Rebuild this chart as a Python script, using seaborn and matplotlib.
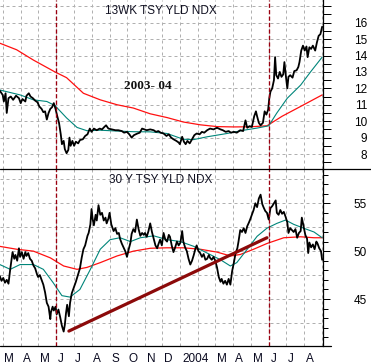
import pandas as pd
import matplotlib
matplotlib.use('Agg')
import matplotlib.pyplot as plt
from matplotlib.lines import Line2D
from matplotlib.ticker import MultipleLocator, FixedLocator, FuncFormatter
import seaborn as sns

start = pd.Timestamp('2003-03-01')

# 13 week t-bill yield index, x = days after 1 Mar 2003
bill_days = [-5, 0, 2, 5, 7, 10, 14, 18, 23, 28, 31, 34, 39, 41, 45, 48, 52, 56, 60, 63,
             67, 70, 73, 76, 79, 82, 85, 88, 91, 94, 97, 100, 102, 105, 107, 110, 113, 115, 117, 120,
             123, 126, 130, 133, 138, 142, 146, 150, 153, 157, 162, 167, 171, 175, 178, 182, 188, 194, 199, 205,
             209, 214, 218, 222, 226, 232, 236, 240, 244, 248, 254, 260, 264, 268, 272, 277, 282, 286, 290, 294,
             299, 303, 305, 309, 312, 315, 318, 322, 326, 330, 334, 339, 343, 347, 352, 357, 363, 369, 375, 379,
             384, 389, 393, 398, 403, 409, 414, 418, 421, 425, 429, 433, 436, 438, 441, 444, 448, 451, 454, 457,
             459, 461, 464, 467, 469, 471, 474, 477, 480, 483, 485, 488, 490, 492, 495, 499, 502, 506, 509, 511,
             514, 517, 520, 523, 525, 528, 531, 534, 538, 541, 544, 547, 550]
bill_yield = [11.86, 11.6, 11.2, 11.7, 10.5, 11.4, 11.5, 11.3, 11.55, 11.4, 11.1, 11.35, 11.2, 11.55, 11.7, 11.5, 11.4, 11.25, 11.15, 10.9,
              10.75, 10.55, 10.6, 10.1, 10.5, 10.75, 10.85, 11.1, 10.75, 10.3, 9.9, 9.2, 8.6, 8.8, 8.3, 8.05, 8.25, 9.0, 8.5, 8.8,
              8.5, 8.75, 8.65, 8.85, 8.9, 9.1, 9.2, 9.55, 9.35, 9.55, 9.45, 9.55, 9.5, 9.65, 9.75, 9.55, 9.5, 9.45, 9.45, 9.4,
              9.3, 9.35, 9.2, 9.0, 9.15, 9.25, 9.3, 9.55, 9.5, 9.45, 9.5, 9.45, 9.35, 9.4, 9.3, 9.25, 9.1, 9.2, 9.0, 8.9,
              8.8, 8.7, 8.6, 9.05, 8.75, 8.6, 8.8, 8.65, 8.9, 9.15, 9.25, 9.2, 9.35, 9.3, 9.45, 9.55, 9.5, 9.6, 9.5, 9.45,
              9.35, 9.4, 9.3, 9.35, 9.3, 9.45, 9.4, 10.05, 9.6, 9.7, 9.65, 10.3, 10.6, 10.3, 9.9, 9.75, 9.9, 10.6, 10.4, 10.7,
              11.4, 11.8, 12.0, 12.5, 13.9, 12.8, 12.6, 13.0, 12.7, 12.85, 13.6, 12.6, 12.0, 12.7, 12.8, 12.65, 13.05, 13.1, 13.3, 13.6,
              14.3, 14.6, 14.3, 14.55, 13.9, 14.5, 14.4, 14.6, 14.3, 14.8, 15.2, 15.3, 15.75]
bill_ma50_days = [-5, 30, 53, 76, 90, 110, 128, 145, 168, 197, 225, 254, 283, 311, 329, 352, 386, 415, 438, 458, 472, 490, 513, 530, 550]
bill_ma50 = [11.9, 11.6, 11.3, 11.2, 10.95, 10.2, 9.62, 9.42, 9.45, 9.4, 9.36, 9.35, 9.25, 8.9, 8.88, 9.05, 9.25, 9.45, 9.58, 9.72, 10.5, 11.4, 12.2, 13.0, 13.9]
bill_ma200_days = [-5, 24, 53, 90, 110, 139, 168, 197, 225, 254, 283, 311, 340, 369, 398, 427, 455, 481, 513, 550]
bill_ma200 = [14.75, 14.35, 13.72, 13.0, 12.65, 11.7, 11.3, 11.0, 10.8, 10.45, 10.22, 9.95, 9.78, 9.67, 9.65, 9.66, 9.72, 10.3, 10.9, 11.6]

# 30 year treasury yield index
bond_days = [-5, -2, 1, 4, 7, 10, 13, 15, 17, 20, 22, 25, 28, 30, 33, 36, 39, 41, 44, 47,
             50, 53, 56, 59, 61, 64, 67, 70, 73, 76, 79, 82, 83, 86, 88, 91, 93, 96, 99, 102,
             105, 107, 109, 111, 114, 116, 119, 123, 126, 130, 133, 136, 139, 142, 146, 148, 151, 153, 155, 157,
             160, 162, 165, 168, 171, 174, 177, 179, 182, 184, 187, 191, 194, 197, 200, 202, 205, 208, 211, 214,
             217, 220, 222, 225, 228, 231, 234, 237, 240, 243, 245, 248, 251, 254, 257, 260, 263, 266, 268, 271,
             274, 277, 280, 283, 286, 288, 291, 294, 297, 300, 303, 306, 309, 311, 314, 317, 320, 323, 326, 329,
             332, 334, 337, 340, 343, 346, 349, 352, 355, 357, 360, 363, 366, 369, 372, 375, 377, 380, 383, 386,
             389, 392, 395, 398, 401, 404, 406, 409, 412, 415, 418, 421, 424, 426, 429, 432, 435, 438, 441, 444,
             447, 449, 452, 455, 458, 461, 464, 467, 470, 472, 475, 478, 481, 484, 487, 490, 492, 495, 498, 501,
             504, 507, 510, 513, 515, 518, 521, 524, 526, 528, 531, 534, 537, 540, 542, 545, 548, 550]
bond_yield = [47.4, 46.9, 47.2, 46.7, 47.0, 46.6, 48.1, 49.0, 49.9, 49.2, 49.6, 49.0, 50.3, 49.4, 49.9, 49.2, 49.9, 49.5, 49.8, 49.2,
              49.0, 48.5, 48.2, 47.6, 47.3, 47.5, 47.0, 46.5, 45.7, 44.6, 44.2, 42.9, 43.6, 44.2, 43.8, 44.2, 43.4, 43.9, 43.1, 42.2,
              41.6, 42.3, 43.5, 44.4, 43.2, 44.6, 45.6, 46.3, 46.8, 47.6, 48.2, 49.3, 50.2, 50.6, 51.6, 51.9, 52.8, 54.4, 53.3, 52.7,
              53.8, 53.2, 54.8, 53.8, 54.0, 53.2, 53.5, 52.9, 53.4, 54.0, 52.8, 52.1, 52.4, 51.8, 51.9, 51.3, 50.8, 50.4, 50.0, 49.4,
              50.2, 50.9, 51.8, 52.3, 52.0, 53.3, 52.3, 51.6, 51.9, 51.7, 51.9, 51.5, 52.1, 52.9, 52.0, 51.3, 50.6, 50.3, 50.7, 51.2,
              50.6, 51.9, 51.2, 51.0, 51.7, 51.5, 50.6, 49.9, 50.4, 51.0, 50.6, 50.9, 52.1, 51.0, 50.4, 50.0, 49.2, 48.6, 49.0, 49.6,
              50.3, 50.6, 50.0, 49.8, 49.4, 49.7, 49.1, 49.2, 49.6, 49.3, 49.1, 49.4, 49.0, 48.3, 47.3, 46.8, 47.1, 46.6, 46.9, 46.5,
              47.1, 46.5, 47.9, 48.8, 49.8, 50.3, 51.0, 52.2, 52.0, 52.4, 51.9, 52.6, 53.0, 53.3, 53.8, 54.3, 55.0, 54.6, 55.5, 55.9,
              54.9, 54.6, 54.2, 54.0, 53.3, 54.5, 54.7, 55.0, 55.3, 54.0, 53.8, 54.3, 53.9, 54.1, 53.6, 53.0, 51.9, 52.4, 52.2, 52.0,
              52.3, 51.4, 51.9, 52.1, 53.5, 52.6, 51.7, 51.3, 49.8, 50.9, 50.4, 50.7, 50.2, 51.0, 50.8, 50.3, 50.0, 49.1]
bond_ma50_days = [-5, 13, 30, 53, 70, 87, 102, 116, 133, 151, 168, 185, 202, 220, 237, 260, 283, 306, 329, 352,
                  375, 392, 403, 421, 438, 455, 472, 487, 501, 518, 536, 550]
bond_ma50 = [48.6, 48.1, 48.6, 48.6, 48.1, 46.7, 45.35, 45.2, 46.0, 48.1, 50.2, 51.2, 51.4, 51.0, 51.4, 51.6, 51.2, 51.0, 50.5, 49.8,
             49.1, 48.45, 48.8, 50.2, 51.55, 52.4, 52.9, 53.25, 52.8, 52.4, 52.0, 51.4]
bond_ma200_days = [-5, 24, 53, 82, 105, 128, 145, 168, 197, 225, 254, 283, 311, 340, 369, 392, 409, 432, 455, 484, 513, 536, 550]
bond_ma200 = [50.5, 50.2, 50.0, 49.3, 48.45, 48.1, 48.3, 48.8, 49.5, 50.0, 50.3, 50.35, 50.35, 50.2, 49.9, 49.5, 49.65, 50.2, 50.8, 51.4, 51.5, 51.4, 51.4]

trend_days = [114, 455]
trend_vals = [41.65, 51.4]
event_days = [92, 458]

month_labels = ['M', 'A', 'M', 'J', 'J', 'A', 'S', 'O', 'N', 'D', '2004', '', 'M', 'A', 'M', 'J', 'J', 'A']


def to_dates(days):
    return start + pd.to_timedelta(days, unit='D')


sns.set_style('white')
plt.rcParams['font.family'] = ['Liberation Sans', 'DejaVu Sans']

W, H = 371, 364
fig = plt.figure(figsize=(W / 100, H / 100), dpi=100, facecolor='white')
ax_top = fig.add_axes([0, 1 - 169.3 / H, 322.5 / W, 169.3 / H])
ax_bot = fig.add_axes([0, 1 - 346.3 / H, 322.5 / W, 177 / H])

grid_kw = dict(color='#b0b0b0', lw=0.72, ls=(0, (3, 3)), zorder=0)
months = pd.date_range('2003-03-01', '2004-09-01', freq='MS')
xlim = (start - pd.Timedelta(days=4.6), start + pd.Timedelta(days=550.6))

panels = [
    (ax_top, bill_days, bill_yield, bill_ma50_days, bill_ma50, bill_ma200_days, bill_ma200, (7.07, 17.38)),
    (ax_bot, bond_days, bond_yield, bond_ma50_days, bond_ma50, bond_ma200_days, bond_ma200, (40.06, 58.55)),
]
for ax, d, v, d50, v50, d200, v200, ylim in panels:
    for m in months:
        ax.axvline(m, **grid_kw)
    sns.lineplot(x=to_dates(d200), y=v200, ax=ax, color='#ff1010', lw=0.9, estimator=None, sort=False, legend=False, zorder=2)
    sns.lineplot(x=to_dates(d50), y=v50, ax=ax, color='#00857a', lw=0.8, estimator=None, sort=False, legend=False, zorder=2)
    sns.lineplot(x=to_dates(d), y=v, ax=ax, color='black', lw=1.3, estimator=None, sort=False, legend=False, zorder=3)
    for e in event_days:
        ax.axvline(to_dates([e])[0], color='#9a0010', lw=0.95, ls=(0, (3.2, 1.7)), zorder=4)
    ax.set_xlim(xlim)
    ax.set_ylim(ylim)
    ax.set_xlabel('')
    ax.set_ylabel('')
    for s in ['left', 'top', 'bottom']:
        ax.spines[s].set_visible(False)
    ax.spines['right'].set_linewidth(0.9)
    ax.spines['right'].set_color('black')
    ax.yaxis.tick_right()
    ax.set_facecolor('none')

# horizontal grids
for g in range(8, 18):
    ax_top.axhline(g, **grid_kw)
for g in [42.5, 45, 47.5, 50, 52.5, 55, 57.5]:
    ax_bot.axhline(g, **grid_kw)

# top axis ticks
ax_top.yaxis.set_major_locator(MultipleLocator(0.5))
ax_top.yaxis.set_major_formatter(FuncFormatter(lambda y, p: f'{y:.0f}' if y % 1 == 0 and 8 <= y <= 16 else ''))
ax_top.tick_params(axis='y', which='major', direction='out', length=8 * 0.72, width=0.72,
                   pad=36.5 * 0.72, labelsize=8.5, colors='black')
ax_top.tick_params(axis='x', which='both', bottom=False, labelbottom=False)

# bottom axis ticks
ax_bot.yaxis.set_major_locator(FixedLocator([45, 50, 55]))
ax_bot.yaxis.set_minor_locator(MultipleLocator(1))
ax_bot.yaxis.set_major_formatter(FuncFormatter(lambda y, p: f'{y:.0f}'))
ax_bot.tick_params(axis='y', which='major', direction='out', length=7 * 0.72, width=0.72,
                   pad=37.5 * 0.72, labelsize=8.5, colors='black')
ax_bot.tick_params(axis='y', which='minor', direction='out', length=5 * 0.72, width=0.72, colors='black')
for ax in (ax_top, ax_bot):
    for lab in ax.get_yticklabels():
        lab.set_horizontalalignment('right')

ax_bot.set_xticks(months)
ax_bot.tick_params(axis='x', which='major', direction='out', length=18 * 0.72, width=0.72,
                   labelbottom=False, colors='black')
ax_bot.tick_params(axis='x', which='minor', bottom=False)
for m, lab in zip(months[:-1], month_labels):
    ax_bot.annotate(lab, xy=(m, 0), xycoords=('data', 'axes fraction'), xytext=(1.3, -11.3),
                    textcoords='offset points', ha='left', va='baseline', fontsize=8.5, color='#0a0a20',
                    annotation_clip=False)

# trend line on the long bond
sns.lineplot(x=to_dates(trend_days), y=trend_vals, ax=ax_bot, color='#8c0a0a', lw=2.3,
             estimator=None, legend=False, zorder=5)
ax_bot.set_xlim(xlim)

ax_top.text(0.5, 0.935, '13WK TSY YLD NDX', transform=ax_top.transAxes, ha='center', va='center',
            fontsize=8.5, color='#111122')
ax_bot.text(0.498, 0.938, '30 Y TSY YLD NDX', transform=ax_bot.transAxes, ha='center', va='center',
            fontsize=8.5, color='#111122')
ax_top.text(147.7 / 322.5, 1 - 86 / 169.3, '2003- 04', transform=ax_top.transAxes, ha='center', va='center',
            fontsize=9.5, fontweight='bold', family=['Liberation Serif', 'DejaVu Serif'], color='#111111')

# panel separator and base line
fig.add_artist(Line2D([0, 1], [1 - 169.3 / H] * 2, transform=fig.transFigure, color='black', lw=0.9))
fig.add_artist(Line2D([0, 331 / W], [1 - 346.3 / H] * 2, transform=fig.transFigure, color='black', lw=0.9))

fig.savefig('out.png', dpi=100, facecolor='white')
